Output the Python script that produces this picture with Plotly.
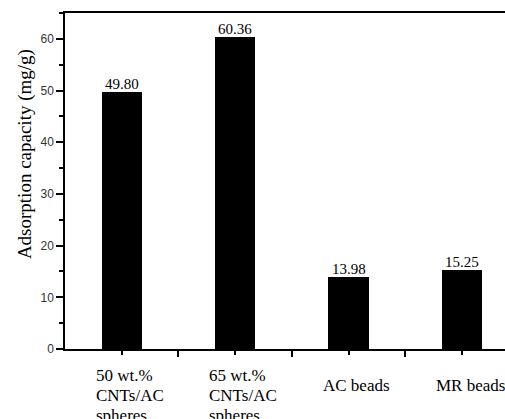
import plotly.graph_objects as go

categories = ["50 wt.%<br>CNTs/AC<br>spheres", "65 wt.%<br>CNTs/AC<br>spheres", "AC beads", "MR beads"]
values = [49.80, 60.36, 13.98, 15.25]
y_title = "Adsorption capacity (mg/g)"

SERIF = "Liberation Serif"
SANS = "Liberation Sans"

xpos = list(range(len(categories)))

fig = go.Figure()
fig.add_trace(go.Bar(
    x=xpos, y=values, width=0.353,
    marker=dict(color="black", line=dict(width=0)),
    hoverinfo="y",
))

annotations = []
for i, v in enumerate(values):
    annotations.append(dict(
        x=xpos[i], y=v, xref="x", yref="y", text=f"{v:.2f}", showarrow=False,
        xanchor="center", yanchor="bottom", yshift=-2,
        font=dict(family=SERIF, size=15, color="black"),
    ))

for i, lab in enumerate(categories):
    lines = lab.split("<br>")
    if len(lines) == 1:
        offsets = [-36]
    else:
        offsets = [-26 - 20 * k for k in range(len(lines))]
    for line, off in zip(lines, offsets):
        annotations.append(dict(
            x=xpos[i], y=0, xref="x", yref="y", text=line, showarrow=False,
            xanchor="left", yanchor="middle", xshift=-28, yshift=off,
            font=dict(family=SERIF, size=17, color="black"),
        ))

annotations.append(dict(
    x=0, y=0.58, xref="paper", yref="paper", text=y_title, showarrow=False,
    textangle=-90, xanchor="center", yanchor="middle", xshift=-40,
    font=dict(family=SERIF, size=19, color="black"),
))

fig.update_layout(
    width=505, height=419,
    margin=dict(l=65, r=0, t=13, b=70),
    paper_bgcolor="white", plot_bgcolor="white",
    showlegend=False,
    annotations=annotations,
    bargap=0,
    xaxis=dict(
        range=[-0.5, 3.38], showgrid=False, zeroline=False,
        showline=True, linecolor="black", linewidth=1.5, mirror=True,
        tickmode="array", tickvals=[0.5, 1.5, 2.5], ticktext=["", "", ""],
        ticks="outside", ticklen=6, tickwidth=1.5, tickcolor="black",
        minor=dict(tickmode="array", tickvals=xpos, ticks="outside", ticklen=4,
                   tickwidth=1.5, tickcolor="black"),
    ),
    yaxis=dict(
        range=[0, 65], showgrid=False, zeroline=False,
        showline=True, linecolor="black", linewidth=1.5,
        dtick=10, tick0=0, ticks="outside", ticklen=7, tickwidth=1.5, tickcolor="black",
        tickfont=dict(family=SANS, size=12, color="#333333"),
        minor=dict(dtick=5, ticks="outside", ticklen=4, tickwidth=1.5, tickcolor="black"),
    ),
)

fig.write_html("out.html")
